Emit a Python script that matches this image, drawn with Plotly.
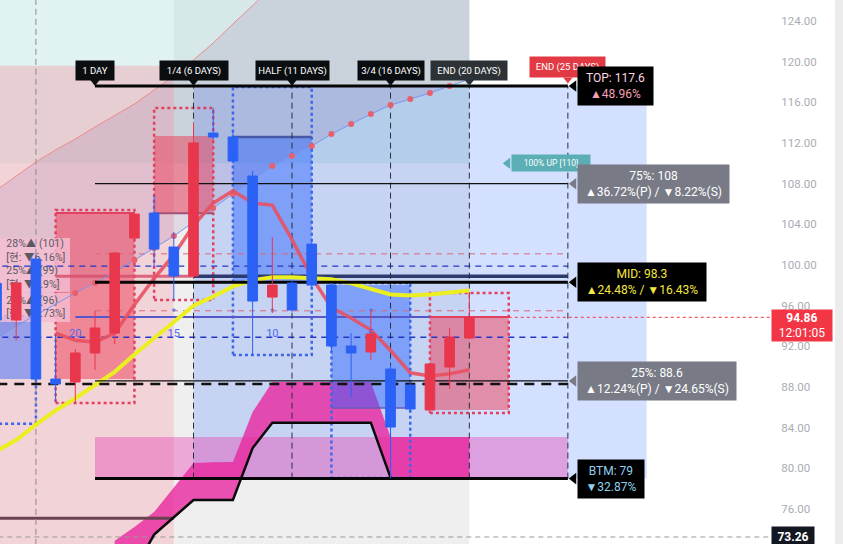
import plotly.graph_objects as go

# ---------------- data ----------------
days = list(range(-4, 21))
opens  = [98.2, 94.59, 100.59, 88.79, 88.50, 91.35, 93.31, 102.65, 105.11, 101.77, 98.92, 112.98, 112.59,
          108.75, 96.85, 98.23, 102.06, 98.03, 92.04, 91.45, 89.77, 88.2, 85.74, 89.97, 92.82]
highs  = [98.6, 98.5, 100.98, 93.12, 91.74, 95.48, 101.28, 105.2, 106.88, 103.24, 113.96, 115.44, 113.2,
          109.24, 102.75, 98.5, 102.3, 98.23, 93.31, 95.58, 90.17, 88.4, 90.4, 93.81, 97.35]
lows   = [94.2, 92.6, 88.5, 86.53, 86.53, 89.68, 92.23, 102.46, 99.80, 96.56, 98.7, 112.29, 110.0,
          91.15, 95.28, 95.4, 97.8, 91.5, 87.02, 90.66, 79.06, 85.6, 85.5, 87.81, 92.82]
closes = [94.6, 98.23, 88.79, 88.30, 91.35, 93.81, 101.18, 105.01, 101.57, 98.92, 112.0, 112.59, 110.23,
          96.46, 98.03, 95.58, 98.03, 92.04, 91.35, 93.22, 84.07, 85.84, 90.27, 92.92, 94.86]

yellow_ma = [81.7, 82.8, 84.3, 85.7, 86.9, 88.2, 89.5, 91.2, 92.8, 94.4, 96.0, 96.9, 97.9, 98.5, 98.8,
             98.8, 98.7, 98.6, 98.2, 97.7, 97.1, 97.0, 97.1, 97.3, 97.5]
red_ma_days = list(range(-1, 21))
red_ma = [93.3, 92.6, 92.4, 93.3, 96.1, 98.7, 101.0, 103.9, 106.1, 107.3, 106.1, 105.9, 102.5, 98.8,
          95.8, 94.8, 93.6, 91.6, 89.4, 89.1, 89.3, 89.7]
projection = [92.82, 94.00, 95.08, 96.17, 97.25, 98.23, 99.31, 100.49, 101.67, 102.85, 104.23, 105.60,
              106.98, 108.36, 109.73, 110.72, 111.70, 112.88, 113.86, 114.85, 115.73, 116.32, 116.91,
              117.60, 118.29]
diag_days = list(range(-4, 11))
diag_upper = [107.37, 108.75, 110.13, 111.31, 112.39, 113.57, 114.70, 115.83, 117.21, 118.58, 120.16,
              121.83, 123.70, 125.47, 127.34]
step_days = list(range(3, 17))
step_line = [70.0, 73.5, 75.2, 76.9, 76.9, 76.9, 82.0, 84.5, 84.5, 84.5, 84.5, 84.5, 84.5, 79.1]
mag_days = list(range(2, 21))
mag_upper = [72.9, 74.24, 75.71, 78.07, 80.53, 80.6, 80.63, 85.55, 88.5, 88.5, 88.5, 88.5, 88.5, 88.5,
             83.1, 83.1, 83.1, 83.1, 83.1]
mag_lower = [68.0, 70.0, 73.5, 75.2, 76.9, 76.9, 76.9, 82.0, 84.5, 84.5, 84.5, 84.5, 84.5, 84.5,
             79.1, 79.0, 79.0, 79.0, 79.0]

TOP, L75, MID, L25, BTM = 117.6, 108.0, 98.3, 88.6, 79.0
BAND_TOP = 83.1
MINT_BOTTOM, PINK_TOP = 110.0, 119.6
mark_days = [1, 6, 11, 16, 20]
mark_labels = ["1 DAY", "1/4 (6 DAYS)", "HALF (11 DAYS)", "3/4 (16 DAYS)", "END (20 DAYS)"]
mark_widths = [34, 64, 69, 62, 72]
END_DAY, BOX_END = 25, 29
LAST_PRICE, LOW_TAG = 94.86, 73.26
tick_vals = [76, 80, 84, 88, 92, 96, 100, 104, 108, 112, 116, 120, 124]
tick_text = ["%.2f" % v for v in tick_vals]

# range boxes: (x0, x1, fill_y0, fill_y1, dot_y0, dot_y1, kind)
range_boxes = [(-6, -2, 88.79, 94.9, 84.4, 95.0, "blue"),
               (-1, 3, 88.79, 105.11, 86.43, 105.41, "red"),
               (4, 7, 105.1, 112.68, 96.56, 115.44, "red"),
               (8, 12, 98.23, 112.59, 91.15, 117.5, "blue"),
               (13, 17, 85.94, 98.03, 79.06, 98.23, "blue"),
               (18, 22, 85.74, 94.89, 85.45, 97.25, "red")]

XMIN, XMAX = -3.822, 35.26
YMIN, YMAX = 72.57, 126.06

fig = go.Figure()


def poly(xs, ys, color, lc="rgba(0,0,0,0)", lw=0, dash="solid"):
    fig.add_trace(go.Scatter(x=xs, y=ys, mode="lines", fill="toself", fillcolor=color,
                             line=dict(color=lc, width=lw, dash=dash), hoverinfo="skip",
                             showlegend=False))


def rect(x0, x1, y0, y1, color):
    poly([x0, x1, x1, x0, x0], [y0, y0, y1, y1, y0], color)


def outline(x0, x1, y0, y1, color, width, dash):
    fig.add_trace(go.Scatter(x=[x0, x1, x1, x0, x0], y=[y0, y0, y1, y1, y0], mode="lines",
                             line=dict(color=color, width=width, dash=dash), hoverinfo="skip",
                             showlegend=False))


def seg(xs, ys, color, width, dash="solid"):
    fig.add_trace(go.Scatter(x=xs, y=ys, mode="lines", line=dict(color=color, width=width, dash=dash),
                             hoverinfo="skip", showlegend=False))


# ---------------- backgrounds ----------------
rect(5, 20, YMIN - 5, YMAX + 5, "#efefef")
rect(XMIN - 1, 20, MINT_BOTTOM, YMAX + 5, "rgba(178,223,219,0.4)")
rect(XMIN - 1, 5, YMIN - 5, PINK_TOP, "rgba(233,182,190,0.6)")
rect(6, BOX_END, BTM, TOP, "rgba(41,98,255,0.2)")
# channel between diagonal and projection
poly(diag_days + [20] + days[::-1], diag_upper + [diag_upper[-1]] + projection[::-1],
     "rgba(120,60,140,0.13)")
# pink band + magenta area
rect(1, END_DAY, BTM, BAND_TOP, "rgba(230,70,180,0.42)")
poly(mag_days + mag_days[::-1], mag_upper + mag_lower[::-1], "rgba(232,40,160,0.8)")

# range boxes
for x0, x1, fy0, fy1, dy0, dy1, kind in range_boxes:
    if kind == "red":
        rect(x0, x1, fy0, fy1, "rgba(235,60,85,0.5)")
    else:
        rect(x0, x1, fy0, fy1, "rgba(41,98,255,0.45)")
for x0, x1, fy0, fy1, dy0, dy1, kind in range_boxes:
    col = "#e2405e" if kind == "red" else "#3b66e8"
    outline(x0, x1, dy0, dy1, col, 2.5, "dot")
seg([-1, 3], [105.11, 105.11], "#e2405e", 2)
seg([4, 7], [105.1, 105.1], "#a05478", 2)
seg([8, 12], [112.59, 112.59], "#4858a8", 2.5)
seg([13, 17], [85.94, 85.94], "#6a5ab8", 1.5)
seg([18, 22], [94.89, 94.89], "#e2405e", 2)

# left labels (behind candles)
left_lab_y = [(100.0, 102.65), (97.35, 100.0), (94.4, 97.25)]
for y0, y1 in left_lab_y:
    rect(XMIN - 1, -0.27, y0, y1, "rgba(246,190,210,0.8)")
fig.add_trace(go.Scatter(x=[-3.5] * 3, y=[101.35, 98.7, 95.8], mode="text",
                         text=["28%▲ (101)<br>[현: ▼6.16%]", "25%▲ (99)<br>[현: ▼4.9%]",
                               "22%▲ (96)<br>[현: ▼1.73%]"],
                         textposition="middle right",
                         textfont=dict(size=10.5, color="#5a5a66",
                                       family="Roboto, Noto Sans CJK KR, sans-serif"),
                         hoverinfo="skip", showlegend=False))

# guide lines
seg([XMIN - 1, 5], [75.1, 75.1], "#6a4252", 3)
seg([XMIN - 1, XMAX + 1], [LOW_TAG, LOW_TAG], "#9a9a9a", 1, "5px,4px")
seg([-2, -2], [YMIN - 5, YMAX + 5], "#8a8a8a", 1, "6px,4px")
seg([1, END_DAY], [101.1, 101.1], "#d9687e", 1, "6px,5px")
seg([1, END_DAY], [95.5, 95.5], "#d9687e", 1, "6px,5px")
seg([XMIN - 1, END_DAY], [99.9, 99.9], "#2436c8", 1.3, "6px,5px")
seg([XMIN - 1, END_DAY], [92.9, 92.9], "#2436c8", 1.3, "6px,5px")
seg([0, 18], [94.9, 94.9], "#5458c8", 2)
seg([-1, 6], [98.9, 98.9], "rgba(215,80,110,0.85)", 3)
seg([6, END_DAY], [98.9, 98.9], "#2c3a6e", 3.5)
seg([22, XMAX + 1], [LAST_PRICE, LAST_PRICE], "#f23645", 1, "dot")
for d in mark_days[1:] + [END_DAY]:
    seg([d, d], [BTM, TOP], "#2a2e39", 1, "6px,4px")

# lines
seg(diag_days, diag_upper, "#ef8a8a", 1)
fig.add_trace(go.Scatter(x=days, y=projection, mode="lines", line=dict(color="#7a96ec", width=1),
                         hoverinfo="skip", showlegend=False))
fig.add_trace(go.Scatter(x=days[4:], y=projection[4:], mode="markers",
                         marker=dict(color="#e8606c", size=6), hoverinfo="skip", showlegend=False))
seg(step_days, step_line, "#0a0a0a", 2.5)
seg(days, yellow_ma, "#ebef22", 4)
seg(red_ma_days, red_ma, "rgba(232,80,96,0.9)", 3.5)

seg([1, END_DAY], [TOP, TOP], "#050505", 3)
seg([1, END_DAY], [L75, L75], "#111111", 1.2)
seg([1, END_DAY], [MID, MID], "#050505", 3)
seg([1, END_DAY], [L25, L25], "#111111", 1.2)
seg([1, END_DAY], [BTM, BTM], "#050505", 3)
seg([XMIN - 1, END_DAY], [88.3, 88.3], "#111111", 2.5, "10px,7px")

# countdown labels
fig.add_trace(go.Scatter(x=[0, 5, 10, 15], y=[93.2] * 4, mode="text", text=["20", "15", "10", "5"],
                         textfont=dict(size=11, color="#4a6cf0", family="Roboto"),
                         hoverinfo="skip", showlegend=False))
fig.add_trace(go.Scatter(x=[5, 10, 15], y=[95.3] * 3, mode="text", text=["*", "*", "*"],
                         textfont=dict(size=9, color="#4a6cf0", family="Roboto"),
                         hoverinfo="skip", showlegend=False))

# candles on an overlaid subplot so they sit above everything drawn so far
fig.add_trace(go.Candlestick(x=days, open=opens, high=highs, low=lows, close=closes,
                             xaxis="x2", yaxis="y2",
                             increasing=dict(line=dict(color="#e8374d", width=1), fillcolor="#e8374d"),
                             decreasing=dict(line=dict(color="#2b62f5", width=1), fillcolor="#2b62f5"),
                             whiskerwidth=0, hoverinfo="skip", showlegend=False))


# pointer triangles (top subplot)
def tri(xs, ys, symbol, color, size):
    fig.add_trace(go.Scatter(x=xs, y=ys, mode="markers", xaxis="x2", yaxis="y2",
                             marker=dict(symbol=symbol, size=size, color=color, line=dict(width=0)),
                             hoverinfo="skip", showlegend=False))


tri(mark_days, [118.0] * 5, "triangle-down", ["#0b0e11"] * 4 + ["#2d3236"], 8)
tri([END_DAY], [118.25], "triangle-down", "#e23a44", 8)
box_levels = [TOP, L75, MID, L25, BTM]
box_cols = ["#000000", "#787b86", "#000000", "#787b86", "#000000"]
tri([25.3] * 5, box_levels, "triangle-left", box_cols, 10)
tri([21.95], [MINT_BOTTOM], "triangle-left", "#5aaeb4", 10)

# ---------------- annotations ----------------
FONT = "Roboto, Noto Sans, sans-serif"
for d, lab, w in zip(mark_days, mark_labels, mark_widths):
    fig.add_annotation(x=d, y=119.13, text=lab, showarrow=False, width=w, height=15, borderpad=2,
                       bgcolor="#2d3236" if d == 20 else "#0b0e11",
                       font=dict(color="white", size=9.5, family=FONT))
fig.add_annotation(x=END_DAY, y=119.47, text="END (25 DAYS)", showarrow=False, width=71, height=16,
                   borderpad=2, bgcolor="#e23a44", font=dict(color="white", size=9.5, family=FONT))
fig.add_annotation(x=24.15, y=MINT_BOTTOM, text="100% UP [110]", showarrow=False, width=76, height=14,
                   borderpad=1, bgcolor="#5aaeb4", font=dict(color="white", size=8.5, family=FONT))

box_texts = ['<span style="color:#ffd6e0">TOP: 117.6</span><br><span style="color:#f7a1b5">▲48.96%</span>',
             "75%: 108<br>▲36.72%(P) / ▼8.22%(S)",
             '<span style="color:#f5e642">MID: 98.3<br>▲24.48% / ▼16.43%</span>',
             "25%: 88.6<br>▲12.24%(P) / ▼24.65%(S)",
             '<span style="color:#8fd0ef">BTM: 79<br>▼32.87%</span>']
box_w = [71, 147, 124, 154, 62]
for lvl, txt, col, w in zip(box_levels, box_texts, box_cols, box_w):
    fig.add_annotation(x=25.47, y=lvl, xanchor="left", text=txt, showarrow=False, width=w, height=34,
                       borderpad=2, bgcolor=col, font=dict(color="white", size=12, family=FONT))

fig.add_annotation(xref="paper", x=1.0013, y=LAST_PRICE, yanchor="top", yshift=8, xanchor="left",
                   text="<b>94.86</b><br>12:01:05", showarrow=False, width=56, height=27, borderpad=2,
                   bgcolor="#f23645", font=dict(color="white", size=12, family=FONT))
fig.add_annotation(xref="paper", x=1.0013, y=LOW_TAG, xanchor="left", yanchor="middle",
                   text="<b>73.26</b>", showarrow=False, width=38, height=16, borderpad=2,
                   bgcolor="#131722", font=dict(color="white", size=12, family=FONT))

fig.add_shape(type="rect", xref="paper", yref="paper", x0=835 / 770, x1=843 / 770, y0=0, y1=1,
              fillcolor="#ececec", line=dict(width=0), layer="below")

fig.update_layout(
    width=843, height=544, margin=dict(l=0, r=73, t=0, b=0),
    paper_bgcolor="white", plot_bgcolor="white", showlegend=False,
    xaxis=dict(range=[XMIN, XMAX], visible=False, rangeslider=dict(visible=False), fixedrange=True),
    xaxis2=dict(range=[XMIN, XMAX], visible=False, overlaying="x", rangeslider=dict(visible=False),
                fixedrange=True),
    yaxis=dict(range=[YMIN, YMAX], side="right", tickvals=tick_vals, ticktext=tick_text,
               showgrid=False, zeroline=False, ticks="outside", ticklen=8,
               tickcolor="rgba(0,0,0,0)", showline=False,
               tickfont=dict(color="#a9acb4", size=11.5, family=FONT)),
    yaxis2=dict(range=[YMIN, YMAX], overlaying="y", side="right", visible=False, showgrid=False,
                zeroline=False),
)
fig.write_html("out.html", config={"displayModeBar": False},
               post_script="document.body.style.margin='0px';")
